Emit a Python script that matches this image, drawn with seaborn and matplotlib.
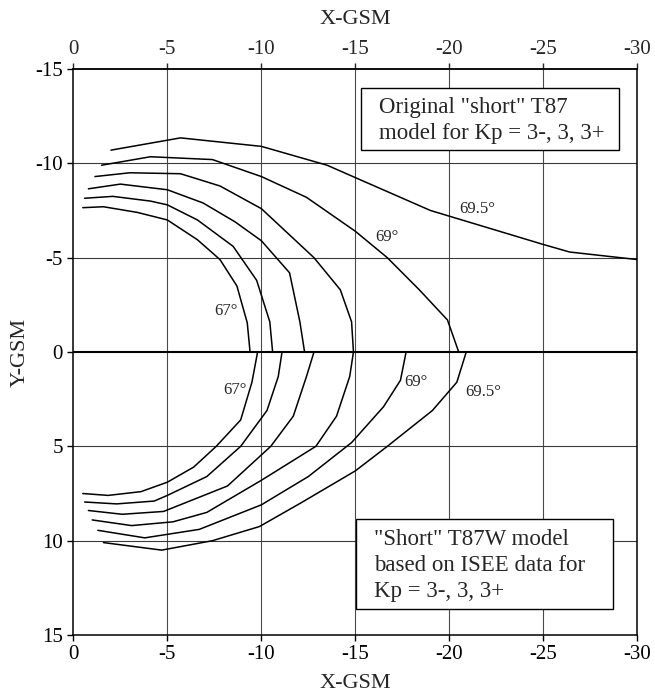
import numpy as np
import pandas as pd
import matplotlib
matplotlib.use("Agg")
import matplotlib.pyplot as plt
from matplotlib.patches import Rectangle
import seaborn as sns

# Tick values and labels (GSM coordinates, Earth radii)
x_ticks = [0, -5, -10, -15, -20, -25, -30]
x_tick_labels = ["0", "-5", "-10", "-15", "-20", "-25", "-30"]
y_ticks = [-15, -10, -5, 0, 5, 10, 15]
y_tick_labels = ["-15", "-10", "-5", "0", "5", "10", "15"]

# Original "short" T87 model: field-line footprints (dusk side, Y < 0)
t87_names = ["67", "67.5", "68", "68.5", "69", "69.5"]
t87_x = [
    [-0.5, -1.6, -3.4, -5.0, -6.6, -7.8, -8.7, -9.25, -9.4],
    [-0.6, -2.1, -4.1, -5.0, -6.6, -8.5, -9.75, -10.45, -10.6],
    [-0.8, -2.5, -5.0, -6.9, -8.6, -10.0, -11.5, -12.05, -12.3],
    [-1.15, -3.0, -5.7, -7.8, -10.0, -12.8, -14.2, -14.8, -14.9],
    [-1.5, -4.1, -7.4, -10.0, -12.4, -15.0, -16.7, -18.4, -19.9, -20.5],
    [-2.0, -5.7, -10.0, -13.5, -15.1, -19.0, -20.0, -25.0, -26.4, -30.0],
]
t87_y = [
    [-7.65, -7.7, -7.4, -7.0, -5.95, -4.9, -3.5, -1.55, 0.0],
    [-8.15, -8.25, -8.0, -7.8, -7.0, -5.6, -3.8, -1.6, 0.0],
    [-8.65, -8.9, -8.6, -7.9, -6.9, -5.9, -4.2, -1.6, 0.0],
    [-9.3, -9.5, -9.45, -8.8, -7.6, -5.0, -3.3, -1.6, 0.0],
    [-9.9, -10.35, -10.2, -9.3, -8.2, -6.4, -5.0, -3.3, -1.7, 0.0],
    [-10.7, -11.35, -10.9, -9.9, -9.2, -7.5, -7.2, -5.7, -5.3, -4.9],
]

# "Short" T87W model based on ISEE data (dawn side, Y > 0)
t87w_names = ["67", "67.5", "68", "68.5", "69", "69.5"]
t87w_x = [
    [-0.5, -1.85, -3.6, -5.0, -6.4, -7.6, -8.9, -9.5, -9.8],
    [-0.6, -2.3, -4.3, -5.0, -7.1, -8.9, -10.3, -10.9, -11.1],
    [-0.8, -2.6, -4.8, -8.2, -10.5, -11.7, -12.4, -12.8],
    [-1.0, -3.1, -5.3, -7.1, -10.0, -12.9, -14.0, -14.7, -14.9],
    [-1.3, -3.8, -6.7, -10.0, -12.5, -14.8, -16.5, -17.4, -17.7],
    [-1.6, -4.7, -7.4, -9.9, -12.1, -15.0, -16.7, -19.1, -20.4, -20.9],
]
t87w_y = [
    [7.5, 7.6, 7.4, 6.9, 6.1, 5.0, 3.6, 1.6, 0.0],
    [7.95, 8.05, 7.9, 7.6, 6.6, 5.0, 3.1, 1.3, 0.0],
    [8.4, 8.6, 8.45, 7.1, 5.0, 3.4, 1.3, 0.0],
    [8.9, 9.2, 9.0, 8.5, 6.8, 5.0, 3.4, 1.3, 0.0],
    [9.45, 9.85, 9.4, 8.1, 6.6, 4.8, 2.9, 1.5, 0.0],
    [10.1, 10.5, 10.0, 9.25, 8.0, 6.3, 5.0, 3.1, 1.6, 0.0],
]

# Latitude labels placed along the curves
angle_labels = ["67°", "69°", "69.5°", "67°", "69°", "69.5°"]
angle_x = [-8.1, -16.7, -21.5, -8.6, -18.2, -21.8]
angle_y = [-2.2, -6.1, -7.6, 2.0, 1.6, 2.1]

# Build a long-form table for seaborn
rows = []
for model, names, xs, ys in [("T87", t87_names, t87_x, t87_y),
                             ("T87W", t87w_names, t87w_x, t87w_y)]:
    for name, cx, cy in zip(names, xs, ys):
        for i, (px, py) in enumerate(zip(cx, cy)):
            rows.append({"curve": f"{model}-{name}", "order": i, "x": px, "y": py})
df = pd.DataFrame(rows)

sns.set_style("ticks")
plt.rcParams["font.family"] = ["Liberation Serif", "DejaVu Serif"]
plt.rcParams["axes.unicode_minus"] = False

fig = plt.figure(figsize=(6.55, 6.95), dpi=100)
ax = fig.add_axes([0.112, 0.0863, 0.861, 0.8144])

# Grid
for gx in [-5, -10, -15, -20, -25]:
    ax.axvline(gx, color="#4a4a4a", lw=0.8, zorder=1)
for gy in [-10, -5, 5, 10]:
    ax.axhline(gy, color="#3a3a3a", lw=0.8, zorder=1)
ax.axhline(0, color="black", lw=1.5, zorder=1)

sns.lineplot(data=df, x="x", y="y", units="curve", estimator=None, sort=False,
             color="black", lw=1.1, ax=ax, zorder=3)

for lab, lx, ly in zip(angle_labels, angle_x, angle_y):
    ax.text(lx, ly, lab, fontsize=12, ha="center", va="center", zorder=4)

# Annotation boxes
ax.add_patch(Rectangle((-15.3, -14.0), -13.7, 3.3, facecolor="white",
                       edgecolor="black", lw=1.0, zorder=5))
ax.text(-16.25, -12.95, 'Original "short" T87', fontsize=16.5,
        ha="left", va="center", zorder=6)
ax.text(-16.25, -11.6, "model for Kp = 3-, 3, 3+", fontsize=16.5,
        ha="left", va="center", zorder=6)

ax.add_patch(Rectangle((-15.05, 8.85), -13.65, 4.75, facecolor="white",
                       edgecolor="black", lw=1.0, zorder=5))
ax.text(-16.0, 9.95, '"Short" T87W model', fontsize=16.5,
        ha="left", va="center", zorder=6)
ax.text(-16.0, 11.3, "based on ISEE data for", fontsize=16.5,
        ha="left", va="center", zorder=6)
ax.text(-16.0, 12.7, "Kp = 3-, 3, 3+", fontsize=16.5,
        ha="left", va="center", zorder=6)

ax.set_xlim(0, -30)
ax.set_ylim(15, -15)
ax.set_xticks(x_ticks)
ax.set_xticklabels(x_tick_labels)
ax.set_yticks(y_ticks)
ax.set_yticklabels(y_tick_labels)
ax.tick_params(axis="both", labelsize=15, length=4.5, width=1.0, pad=3,
               direction="out", colors="black")
ax.set_xlabel("X-GSM", fontsize=16, labelpad=7)
ax.set_ylabel("Y-GSM", fontsize=16, labelpad=4)
top = ax.secondary_xaxis("top")
top.set_xticks(x_ticks)
top.set_xticklabels(x_tick_labels)
top.tick_params(labelsize=15, length=4.5, width=1.0, pad=3)
top.set_xlabel("X-GSM", fontsize=16, labelpad=11)

for s in ax.spines.values():
    s.set_visible(True)
    s.set_linewidth(1.1)
    s.set_color("black")
for s in top.spines.values():
    s.set_linewidth(1.1)

fig.savefig("out.png", dpi=100)
